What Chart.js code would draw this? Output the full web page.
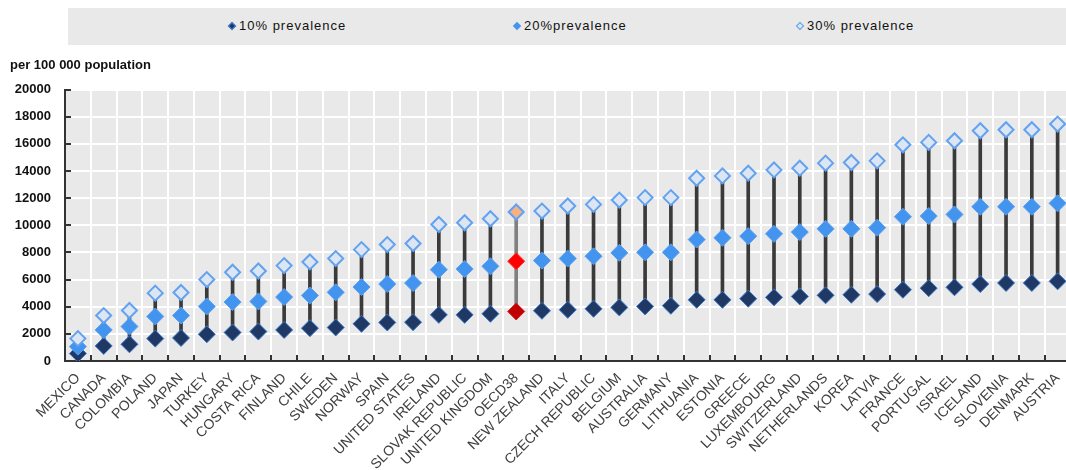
<!DOCTYPE html>
<html>
<head>
<meta charset="utf-8">
<script src="https://cdn.jsdelivr.net/npm/chart.js@4"></script>
<style>
  body { margin: 0; overflow: hidden; background: #fff; }
  #wrap { position: relative; width: 1080px; height: 470px; }
  #legend { position: absolute; left: 68px; top: 8px; width: 1012px; height: 37px; background: #e9e9e9; }
  .item { position: absolute; top: 10px; font: 13px "Liberation Sans", Arial, sans-serif; letter-spacing: 1px; color: #111; white-space: nowrap; }
  .mk { display: inline-block; width: 6px; height: 6px; transform: rotate(45deg); margin-right: 4px; vertical-align: 1px; box-sizing: border-box; }
</style>
</head>
<body>
<div id="wrap">
  <canvas id="chartPrevalence" width="1080" height="470"></canvas>
  <div id="legend">
    <span class="item" style="left:161px"><span class="mk" style="background:#1f3864;border:1px solid #4a8fe0"></span>10% prevalence</span>
    <span class="item" style="left:446px"><span class="mk" style="background:#4394ef"></span>20%prevalence</span>
    <span class="item" style="left:729px"><span class="mk" style="background:#dce6f3;border:1px solid #5a9ef0"></span>30% prevalence</span>
  </div>
</div>
<script>
const categories = ["MEXICO","CANADA","COLOMBIA","POLAND","JAPAN","TURKEY","HUNGARY","COSTA RICA","FINLAND","CHILE",
	"SWEDEN","NORWAY","SPAIN","UNITED STATES","IRELAND","SLOVAK REPUBLIC","UNITED KINGDOM","OECD38","NEW ZEALAND","ITALY",
	"CZECH REPUBLIC","BELGIUM","AUSTRALIA","GERMANY","LITHUANIA","ESTONIA","GREECE","LUXEMBOURG","SWITZERLAND","NETHERLANDS",
	"KOREA","LATVIA","FRANCE","PORTUGAL","ISRAEL","ICELAND","SLOVENIA","DENMARK","AUSTRIA"];
const prev10 = [550,1110,1230,1650,1700,1970,2100,2170,2290,2420,2470,2740,2840,2860,3400,3400,3480,3650,3700,3770,
	3850,3950,4020,4070,4510,4510,4590,4690,4760,4840,4880,4930,5250,5370,5430,5670,5750,5750,5870];
const prev20 = [1060,2290,2540,3280,3350,4020,4340,4390,4710,4830,5060,5450,5670,5740,6730,6780,6980,7350,7400,7550,
	7720,7970,8010,8010,8950,9080,9200,9370,9500,9740,9740,9820,10630,10680,10800,11370,11370,11370,11620];
const prev30 = [1650,3350,3720,5000,5050,6000,6540,6630,7030,7300,7550,8210,8580,8660,10060,10190,10480,10980,11050,11420,
	11540,11860,12040,12040,13470,13640,13840,14080,14210,14580,14630,14750,15930,16110,16230,16970,17040,17040,17460];
const yTicks = [0,2000,4000,6000,8000,10000,12000,14000,16000,18000,20000];

const hl = categories.indexOf("OECD38");
const pick = (normal, special) => categories.map((c, i) => i === hl ? special : normal);

// grey plot background + short inward tick marks
const plotDecor = {
	id: 'plotDecor',
	beforeDraw(chart) {
		const a = chart.chartArea, ctx = chart.ctx;
		ctx.save();
		ctx.fillStyle = '#e9e9e9';
		ctx.fillRect(a.left, a.top, a.right - a.left, a.bottom - a.top);
		ctx.restore();
	},
	afterDraw(chart) {
		const ctx = chart.ctx, xs = chart.scales.x, ys = chart.scales.y;
		ctx.save();
		ctx.strokeStyle = '#333';
		ctx.lineWidth = 2;
		ctx.beginPath();
		const n = categories.length;
		for (let i = 0; i <= n; i++) {
			const x = Math.round(xs.left + i * (xs.right - xs.left) / n);
			ctx.moveTo(x, ys.bottom);
			ctx.lineTo(x, ys.bottom - 6);
		}
		yTicks.forEach(v => {
			const y = Math.round(ys.getPixelForValue(v));
			ctx.moveTo(xs.left, y);
			ctx.lineTo(xs.left + 6, y);
		});
		ctx.stroke();
		ctx.restore();
	}
};

new Chart(document.getElementById("chartPrevalence"), {
	type: 'bar',
	data: {
		labels: categories,
		datasets: [{
			type: 'line',
			label: "30% prevalence",
			data: prev30,
			showLine: false,
			pointStyle: 'rectRot',
			pointRadius: 7.5,
			pointBorderWidth: 2,
			pointBackgroundColor: pick('#dce6f3', '#f4b183'),
			pointBorderColor: '#62a2f0',
			order: 1
		},{
			type: 'line',
			label: "20% prevalence",
			data: prev20,
			showLine: false,
			pointStyle: 'rectRot',
			pointRadius: 8.5,
			pointBorderWidth: 1,
			pointBackgroundColor: pick('#4394ef', '#ff0000'),
			pointBorderColor: pick('#5aa0f0', '#ff3030'),
			order: 2
		},{
			type: 'line',
			label: "10% prevalence",
			data: prev10,
			showLine: false,
			pointStyle: 'rectRot',
			pointRadius: 8.5,
			pointBorderWidth: 1,
			pointBackgroundColor: pick('#1f3864', '#c00000'),
			pointBorderColor: pick('#3f78c8', '#d02020'),
			order: 3
		},{
			label: "range",
			data: categories.map((c, i) => [prev10[i], prev30[i]]),
			backgroundColor: pick('#3a3a3a', '#808080'),
			barThickness: 3,
			order: 10
		}]
	},
	options: {
		responsive: false,
		animation: false,
		layout: { padding: { left: 10, right: 5, top: 0, bottom: 0 } },
		plugins: {
			legend: { display: false },
			tooltip: { enabled: false },
			title: {
				display: true,
				text: "per 100 000 population",
				align: 'start',
				color: '#111',
				font: { family: '"Liberation Sans", Arial, sans-serif', size: 13, weight: 'bold' },
				padding: { top: 58, bottom: 16 }
			}
		},
		scales: {
			x: {
				offset: true,
				grid: { offset: true, color: '#ffffff', lineWidth: 2, drawTicks: false },
				border: { display: true, color: '#333', width: 2 },
				ticks: {
					autoSkip: false,
					minRotation: 45,
					maxRotation: 45,
					padding: 9,
					color: '#404040',
					font: { family: '"Liberation Sans", Arial, sans-serif', size: 14 }
				},
				afterFit: (scale) => { scale.height = 109; }
			},
			y: {
				min: 0,
				max: 20000,
				afterBuildTicks: (scale) => { scale.ticks = yTicks.map(v => ({ value: v })); },
				grid: { color: '#ffffff', lineWidth: 2, drawTicks: false },
				border: { display: true, color: '#333', width: 2 },
				ticks: {
					padding: 14,
					color: '#111',
					callback: (v) => String(v),
					font: { family: '"Liberation Sans", Arial, sans-serif', size: 13, weight: 'bold' }
				},
				afterFit: (scale) => { scale.width = 55; }
			}
		}
	},
	plugins: [plotDecor]
});
</script>
</body>
</html>
